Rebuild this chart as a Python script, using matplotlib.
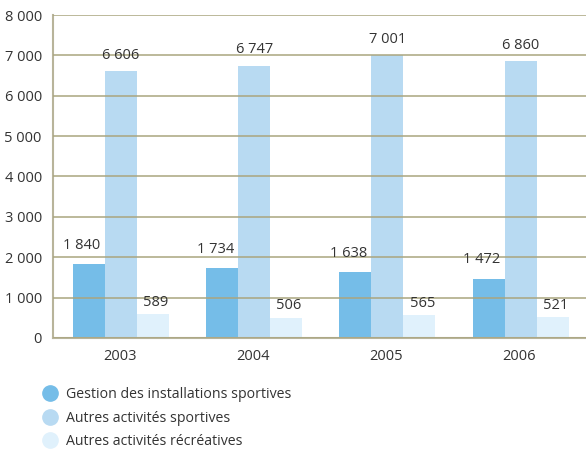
import matplotlib.pyplot as plt
from matplotlib.lines import Line2D
import numpy as np

years = ["2003", "2004", "2005", "2006"]
gestion = [1840, 1734, 1638, 1472]
sportives = [6606, 6747, 7001, 6860]
recreatives = [589, 506, 565, 521]
series_names = ["Gestion des installations sportives",
                "Autres activités sportives",
                "Autres activités récréatives"]
colors = ["#75bde8", "#b8daf2", "#e0f1fc"]
# label nudges (points) per series, like the original
label_offsets = [(-5, 8), (0, 6), (2, 3)]

plt.rcParams['font.family'] = ['Open Sans', 'DejaVu Sans']

def fmt(v):
    return f"{v:,}".replace(",", " ")

fig = plt.figure(figsize=(5.86, 4.51), dpi=100)
ax = fig.add_axes([0.0904, 0.2506, 0.9096, 0.7161])

x = np.arange(len(years))
w = 0.24
for i, vals in enumerate([gestion, sportives, recreatives]):
    bars = ax.bar(x + (i - 1) * w + 0.01, vals, w, color=colors[i], zorder=1)
    for b, v in zip(bars, vals):
        ax.annotate(fmt(v), (b.get_x() + b.get_width() / 2, v), xytext=label_offsets[i],
                    textcoords="offset points", ha="center", va="bottom",
                    fontsize=10.5, color="#333333")

ax.set_xlim(-0.5, 3.5)
ax.set_ylim(0, 8000)
ax.set_yticks(range(0, 8001, 1000))
ax.set_yticklabels([fmt(v) for v in range(0, 8001, 1000)])
ax.set_xticks(x)
ax.set_xticklabels(years)
ax.yaxis.grid(True, color="#aaa57f", linewidth=1.1, zorder=3)
ax.set_axisbelow(False)
for s in ["top", "right"]:
    ax.spines[s].set_visible(False)
for s in ["left", "bottom"]:
    ax.spines[s].set_color("#b8b49a")
    ax.spines[s].set_linewidth(1.5)
ax.tick_params(length=0, labelsize=10.5, colors="#333333", pad=8)

handles = [Line2D([], [], marker="o", linestyle="", markersize=11, color=c) for c in colors]
leg = fig.legend(handles, series_names, loc="upper left", bbox_to_anchor=(0.063, 0.157),
                 frameon=False, fontsize=10.2, handlelength=0.8, handletextpad=0.75,
                 labelspacing=0.6, borderpad=0)
for t in leg.get_texts():
    t.set_color("#333333")

fig.savefig("out.png", dpi=100)
